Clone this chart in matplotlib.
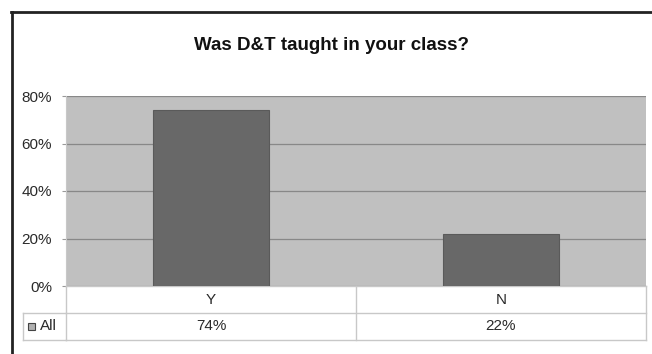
import matplotlib.pyplot as plt
from matplotlib.patches import Rectangle
from matplotlib.transforms import blended_transform_factory

categories = ["Y", "N"]
values = [74, 22]
series_name = "All"
y_ticks = [0, 20, 40, 60, 80]

W, H = 652, 354
plt.rcParams["font.family"] = ["Liberation Sans", "DejaVu Sans"]

fig = plt.figure(figsize=(W / 100, H / 100), dpi=100)
fig.patch.set_facecolor("white")

# plot area in pixels
left, right, top, bottom = 66, 646, 96, 286
ax = fig.add_axes([left / W, 1 - bottom / H, (right - left) / W, (bottom - top) / H])
ax.set_facecolor("#c0c0c0")

x = range(len(categories))
ax.bar(x, values, width=0.4, color="#686868", edgecolor="#5a5a5a", linewidth=0.8, zorder=3)
ax.set_xlim(-0.5, len(categories) - 0.5)
ax.set_ylim(0, 80)
ax.set_yticks(y_ticks)
ax.set_yticklabels([f"{t}%" for t in y_ticks], fontsize=11, color="#2a2a2a")
ax.yaxis.grid(True, color="#888888", linewidth=0.9, zorder=1)
ax.tick_params(axis="y", length=3, width=0.8, color="#999999", pad=7)
ax.set_xticks([])
for s in ["top", "right", "bottom"]:
    ax.spines[s].set_visible(False)
ax.spines["left"].set_color("#c8c8c8")


def fy(py):
    return 1 - py / H


def fx(px):
    return px / W


# data table under the plot, columns follow the x scale
row_h = 27
tbl_left = 23
r1, r2 = bottom + row_h, bottom + 2 * row_h
tc = blended_transform_factory(ax.transData, fig.transFigure)
line_kw = dict(color="#c8c8c8", linewidth=1.0, clip_on=False)

ax.plot([-0.5, len(categories) - 0.5], [fy(bottom)] * 2, transform=tc, **line_kw)
ax.plot([-0.5, len(categories) - 0.5], [fy(r1)] * 2, transform=tc, **line_kw)
ax.plot([-0.5, len(categories) - 0.5], [fy(r2)] * 2, transform=tc, **line_kw)
fig.add_artist(plt.Line2D([fx(tbl_left), fx(left)], [fy(r1)] * 2, color="#c8c8c8", linewidth=1.0))
fig.add_artist(plt.Line2D([fx(tbl_left), fx(left)], [fy(r2)] * 2, color="#c8c8c8", linewidth=1.0))
fig.add_artist(plt.Line2D([fx(tbl_left)] * 2, [fy(r1), fy(r2)], color="#c8c8c8", linewidth=1.0))
for i in range(len(categories) + 1):
    ax.plot([i - 0.5] * 2, [fy(bottom), fy(r2)], transform=tc, **line_kw)

for i, (cat, v) in enumerate(zip(categories, values)):
    ax.text(i, fy(bottom + row_h / 2), cat, transform=tc, ha="center", va="center",
            fontsize=11, color="#2a2a2a")
    ax.text(i, fy(r1 + row_h / 2), f"{v}%", transform=tc, ha="center", va="center",
            fontsize=11, color="#2a2a2a")

# legend key + series name in the row label cell
ky = r1 + row_h / 2
fig.add_artist(Rectangle((fx(28), fy(ky + 3.5)), 7 / W, 7 / H, transform=fig.transFigure,
                         facecolor="#b0b0b0", edgecolor="#444444", linewidth=0.8))
fig.text(fx(40), fy(ky), series_name, ha="left", va="center", fontsize=11, color="#2a2a2a")

# title
fig.text(fx(332), fy(45), "Was D&T taught in your class?", ha="center", va="center",
         fontsize=13.5, fontweight="bold", color="#111111")

# outer chart border (top and left only visible)
fig.add_artist(plt.Line2D([fx(11), 1], [fy(12)] * 2, color="#222222", linewidth=2))
fig.add_artist(plt.Line2D([fx(12)] * 2, [0, fy(12)], color="#222222", linewidth=2))

fig.savefig("out.png", dpi=100)
